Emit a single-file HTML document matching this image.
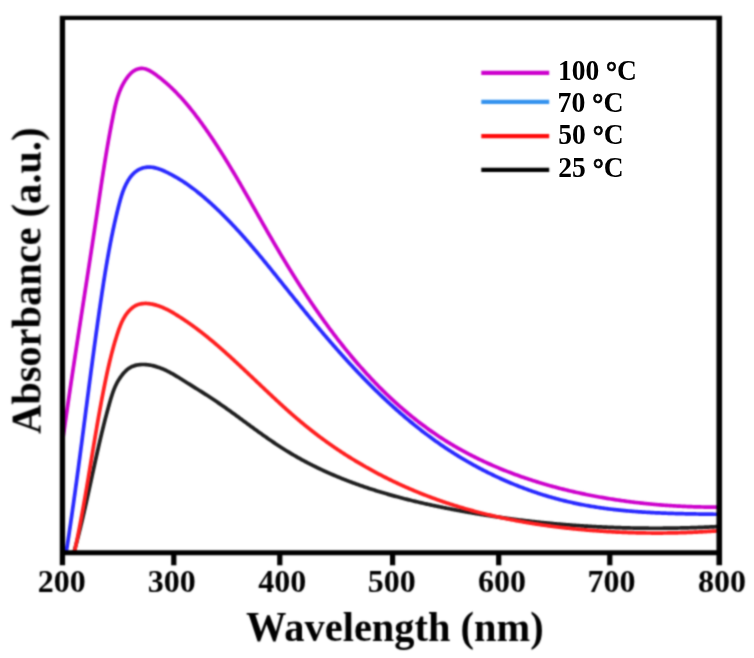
<!DOCTYPE html>
<html><head><meta charset="utf-8"><style>
html,body{margin:0;padding:0;background:#fff;}
svg{display:block;}
text{font-family:"Liberation Serif",serif;font-weight:bold;fill:#000;}
</style></head><body>
<svg width="754" height="658" viewBox="0 0 754 658">
<defs><clipPath id="c"><rect x="62" y="18" width="658" height="535"/></clipPath>
<filter id="f" x="0" y="0" width="754" height="658" filterUnits="userSpaceOnUse" color-interpolation-filters="sRGB"><feConvolveMatrix order="5" kernelMatrix="0.00048 0.00501 0.01095 0.00501 0.00048 0.00501 0.05222 0.11405 0.05222 0.00501 0.01095 0.11405 0.24912 0.11405 0.01095 0.00501 0.05222 0.11405 0.05222 0.00501 0.00048 0.00501 0.01095 0.00501 0.00048" edgeMode="none"/></filter></defs>
<rect width="754" height="658" fill="#fff"/>
<g filter="url(#f)">
<g clip-path="url(#c)" fill="none" stroke-width="3.7" stroke-linejoin="round" stroke-linecap="round">
<path d="M73.54,553.74 L73.79,552.86 L74.03,551.99 L74.28,551.11 L74.52,550.23 L74.77,549.35 L75.01,548.47 L75.25,547.59 L75.49,546.71 L75.73,545.83 L75.97,544.95 L76.20,544.07 L76.44,543.19 L76.67,542.30 L76.91,541.42 L77.14,540.53 L77.37,539.65 L77.60,538.76 L77.83,537.88 L78.06,536.99 L78.29,536.10 L78.51,535.22 L78.74,534.33 L78.96,533.44 L79.19,532.55 L79.41,531.66 L79.63,530.77 L79.85,529.88 L80.07,528.99 L80.29,528.10 L80.51,527.21 L80.73,526.32 L80.94,525.42 L81.16,524.53 L81.38,523.64 L81.59,522.74 L81.80,521.85 L82.02,520.96 L82.23,520.06 L82.44,519.17 L82.65,518.27 L82.86,517.38 L83.07,516.48 L83.28,515.58 L83.49,514.69 L83.70,513.79 L83.91,512.89 L84.11,511.99 L84.32,511.10 L84.52,510.20 L84.73,509.30 L84.93,508.40 L85.14,507.50 L85.34,506.60 L85.54,505.70 L85.75,504.80 L85.95,503.90 L86.15,503.00 L86.35,502.10 L86.55,501.20 L86.75,500.30 L86.96,499.40 L87.16,498.50 L87.35,497.60 L87.55,496.70 L87.75,495.79 L87.95,494.89 L88.15,493.99 L88.35,493.09 L88.55,492.18 L88.74,491.28 L88.94,490.38 L89.14,489.48 L89.34,488.57 L89.53,487.67 L89.73,486.77 L89.93,485.86 L90.12,484.96 L90.32,484.06 L90.52,483.15 L90.71,482.25 L90.91,481.35 L91.11,480.44 L91.30,479.54 L91.50,478.64 L91.70,477.73 L91.89,476.83 L92.09,475.93 L92.28,475.02 L92.48,474.12 L92.68,473.21 L92.87,472.31 L93.07,471.41 L93.27,470.50 L93.47,469.60 L93.66,468.70 L93.86,467.79 L94.06,466.89 L94.26,465.99 L94.45,465.08 L94.65,464.18 L94.85,463.28 L95.05,462.37 L95.25,461.47 L95.45,460.57 L95.65,459.67 L95.85,458.76 L96.05,457.86 L96.25,456.96 L96.45,456.06 L96.65,455.15 L96.85,454.25 L97.05,453.35 L97.26,452.45 L97.46,451.55 L97.66,450.65 L97.87,449.75 L98.07,448.85 L98.28,447.94 L98.48,447.04 L98.69,446.14 L98.89,445.24 L99.10,444.35 L99.31,443.45 L99.52,442.55 L99.73,441.65 L99.94,440.75 L100.15,439.85 L100.36,438.95 L100.57,438.06 L100.78,437.16 L100.99,436.26 L101.21,435.37 L101.42,434.47 L101.64,433.57 L101.85,432.68 L102.07,431.78 L102.29,430.89 L102.51,429.99 L102.72,429.10 L102.94,428.20 L103.16,427.31 L103.39,426.42 L103.61,425.52 L103.83,424.63 L104.06,423.74 L104.28,422.85 L104.51,421.96 L104.74,421.07 L104.96,420.18 L105.19,419.29 L105.42,418.40 L105.65,417.51 L105.89,416.62 L106.12,415.73 L106.35,414.85 L106.59,413.96 L106.83,413.07 L107.06,412.19 L107.30,411.30 L107.54,410.42 L107.78,409.53 L108.02,408.65 L108.27,407.76 L108.51,406.88 L108.76,406.00 L109.01,405.12 L109.25,404.24 L109.50,403.36 L109.75,402.48 L110.01,401.60 L110.26,400.72 L110.51,399.84 L110.77,398.96 L111.03,398.09 L111.30,397.21 L111.57,396.34 L111.85,395.47 L112.13,394.60 L112.42,393.73 L112.71,392.87 L113.01,392.00 L113.33,391.14 L113.65,390.29 L113.98,389.43 L114.32,388.58 L114.67,387.73 L115.04,386.88 L115.41,386.04 L115.80,385.20 L116.21,384.37 L116.62,383.54 L117.06,382.71 L117.51,381.89 L117.97,381.07 L118.45,380.26 L118.95,379.45 L119.47,378.65 L120.00,377.86 L120.55,377.07 L121.11,376.29 L121.69,375.53 L122.29,374.77 L122.89,374.03 L123.51,373.30 L124.14,372.59 L124.79,371.90 L125.45,371.22 L126.13,370.58 L126.82,369.95 L127.52,369.36 L128.24,368.80 L128.99,368.28 L129.74,367.79 L130.52,367.34 L131.31,366.92 L132.12,366.55 L132.94,366.20 L133.78,365.89 L134.63,365.62 L135.49,365.38 L136.36,365.16 L137.24,364.98 L138.13,364.83 L139.03,364.71 L139.93,364.61 L140.84,364.54 L141.75,364.50 L142.67,364.48 L143.59,364.49 L144.51,364.52 L145.44,364.57 L146.36,364.64 L147.28,364.73 L148.20,364.85 L149.12,364.98 L150.03,365.13 L150.94,365.29 L151.84,365.48 L152.74,365.68 L153.63,365.89 L154.52,366.12 L155.40,366.36 L156.28,366.62 L157.16,366.90 L158.03,367.18 L158.90,367.48 L159.76,367.80 L160.62,368.12 L161.47,368.46 L162.33,368.80 L163.18,369.16 L164.02,369.53 L164.86,369.91 L165.70,370.30 L166.53,370.70 L167.37,371.11 L168.20,371.53 L169.02,371.95 L169.84,372.38 L170.66,372.82 L171.48,373.27 L172.30,373.72 L173.11,374.18 L173.92,374.64 L174.72,375.11 L175.53,375.58 L176.33,376.06 L177.13,376.54 L177.93,377.03 L178.73,377.51 L179.52,378.01 L180.32,378.50 L181.11,378.99 L181.90,379.49 L182.69,379.98 L183.47,380.48 L184.26,380.98 L185.04,381.47 L185.83,381.97 L186.61,382.46 L187.39,382.96 L188.17,383.45 L188.95,383.94 L189.73,384.43 L190.51,384.91 L191.28,385.40 L192.06,385.89 L192.83,386.37 L193.61,386.85 L194.38,387.34 L195.15,387.82 L195.93,388.30 L196.70,388.78 L197.47,389.27 L198.24,389.75 L199.01,390.23 L199.77,390.71 L200.54,391.19 L201.31,391.68 L202.07,392.16 L202.84,392.64 L203.60,393.13 L204.37,393.61 L205.13,394.10 L205.89,394.58 L206.65,395.07 L207.42,395.56 L208.18,396.05 L208.94,396.55 L209.70,397.04 L210.46,397.53 L211.21,398.03 L211.97,398.53 L212.73,399.03 L213.49,399.54 L214.24,400.04 L215.00,400.55 L215.75,401.06 L216.51,401.57 L217.26,402.08 L218.02,402.60 L218.77,403.12 L219.53,403.64 L220.28,404.16 L221.03,404.68 L221.79,405.21 L222.54,405.73 L223.29,406.26 L224.04,406.79 L224.79,407.32 L225.54,407.85 L226.30,408.38 L227.05,408.92 L227.80,409.45 L228.55,409.99 L229.30,410.53 L230.05,411.07 L230.80,411.61 L231.55,412.15 L232.30,412.69 L233.05,413.24 L233.80,413.78 L234.55,414.33 L235.30,414.87 L236.05,415.42 L236.80,415.97 L237.55,416.52 L238.30,417.07 L239.05,417.61 L239.80,418.16 L240.55,418.71 L241.30,419.27 L242.05,419.82 L242.80,420.37 L243.55,420.92 L244.30,421.47 L245.05,422.02 L245.81,422.58 L246.56,423.13 L247.31,423.68 L248.06,424.23 L248.81,424.78 L249.57,425.34 L250.32,425.89 L251.07,426.44 L251.83,426.99 L252.58,427.54 L253.34,428.09 L254.09,428.64 L254.85,429.19 L255.60,429.74 L256.36,430.29 L257.12,430.84 L257.87,431.38 L258.63,431.93 L259.39,432.48 L260.15,433.02 L260.91,433.57 L261.67,434.11 L262.43,434.65 L263.19,435.19 L263.95,435.73 L264.72,436.27 L265.48,436.81 L266.24,437.35 L267.01,437.88 L267.77,438.42 L268.54,438.95 L269.31,439.48 L270.07,440.01 L270.84,440.54 L271.61,441.07 L272.38,441.59 L273.15,442.12 L273.92,442.64 L274.70,443.16 L275.47,443.68 L276.25,444.20 L277.02,444.71 L277.80,445.23 L278.57,445.74 L279.35,446.25 L280.13,446.75 L280.91,447.26 L281.69,447.76 L282.48,448.26 L283.26,448.76 L284.04,449.26 L284.83,449.75 L285.62,450.24 L286.40,450.73 L287.19,451.22 L287.98,451.70 L288.77,452.18 L289.56,452.66 L290.36,453.14 L291.15,453.61 L291.95,454.08 L292.74,454.55 L293.54,455.02 L294.34,455.49 L295.14,455.95 L295.94,456.41 L296.74,456.87 L297.55,457.32 L298.35,457.78 L299.15,458.23 L299.96,458.67 L300.77,459.12 L301.58,459.57 L302.38,460.01 L303.19,460.45 L304.01,460.88 L304.82,461.32 L305.63,461.75 L306.44,462.18 L307.26,462.61 L308.08,463.04 L308.89,463.46 L309.71,463.88 L310.53,464.30 L311.35,464.72 L312.17,465.13 L312.99,465.54 L313.82,465.96 L314.64,466.36 L315.46,466.77 L316.29,467.17 L317.12,467.58 L317.94,467.98 L318.77,468.37 L319.60,468.77 L320.43,469.16 L321.26,469.55 L322.09,469.94 L322.93,470.33 L323.76,470.72 L324.59,471.10 L325.43,471.48 L326.27,471.86 L327.10,472.24 L327.94,472.61 L328.78,472.99 L329.62,473.36 L330.46,473.73 L331.30,474.09 L332.14,474.46 L332.99,474.82 L333.83,475.18 L334.68,475.54 L335.52,475.90 L336.37,476.25 L337.21,476.61 L338.06,476.96 L338.91,477.31 L339.76,477.66 L340.61,478.00 L341.46,478.35 L342.31,478.69 L343.17,479.03 L344.02,479.37 L344.87,479.70 L345.73,480.04 L346.58,480.37 L347.44,480.70 L348.30,481.03 L349.16,481.36 L350.01,481.68 L350.87,482.01 L351.73,482.33 L352.59,482.65 L353.46,482.97 L354.32,483.29 L355.18,483.60 L356.04,483.91 L356.91,484.23 L357.77,484.53 L358.64,484.84 L359.50,485.15 L360.37,485.45 L361.24,485.76 L362.11,486.06 L362.97,486.36 L363.84,486.66 L364.71,486.95 L365.58,487.25 L366.46,487.54 L367.33,487.83 L368.20,488.12 L369.07,488.41 L369.95,488.70 L370.82,488.98 L371.70,489.26 L372.57,489.55 L373.45,489.83 L374.32,490.10 L375.20,490.38 L376.08,490.66 L376.96,490.93 L377.84,491.20 L378.72,491.47 L379.60,491.74 L380.48,492.01 L381.36,492.28 L382.24,492.54 L383.12,492.81 L384.00,493.07 L384.89,493.33 L385.77,493.59 L386.65,493.84 L387.54,494.10 L388.42,494.36 L389.31,494.61 L390.20,494.86 L391.08,495.11 L391.97,495.36 L392.86,495.61 L393.74,495.85 L394.63,496.10 L395.52,496.34 L396.41,496.59 L397.30,496.83 L398.19,497.07 L399.08,497.30 L399.97,497.54 L400.86,497.78 L401.76,498.01 L402.65,498.24 L403.54,498.48 L404.43,498.71 L405.33,498.94 L406.22,499.16 L407.12,499.39 L408.01,499.62 L408.91,499.84 L409.80,500.06 L410.70,500.29 L411.59,500.51 L412.49,500.73 L413.39,500.94 L414.28,501.16 L415.18,501.38 L416.08,501.59 L416.98,501.80 L417.87,502.02 L418.77,502.23 L419.67,502.44 L420.57,502.65 L421.47,502.86 L422.37,503.06 L423.27,503.27 L424.17,503.47 L425.07,503.68 L425.97,503.88 L426.88,504.08 L427.78,504.28 L428.68,504.48 L429.58,504.68 L430.48,504.87 L431.39,505.07 L432.29,505.27 L433.19,505.46 L434.10,505.65 L435.00,505.85 L435.90,506.04 L436.81,506.23 L437.71,506.42 L438.62,506.60 L439.52,506.79 L440.43,506.98 L441.33,507.16 L442.24,507.35 L443.14,507.53 L444.05,507.71 L444.95,507.90 L445.86,508.08 L446.76,508.26 L447.67,508.44 L448.58,508.61 L449.48,508.79 L450.39,508.97 L451.30,509.14 L452.20,509.32 L453.11,509.49 L454.02,509.67 L454.93,509.84 L455.83,510.01 L456.74,510.18 L457.65,510.35 L458.56,510.52 L459.46,510.69 L460.37,510.86 L461.28,511.02 L462.19,511.19 L463.10,511.35 L464.01,511.52 L464.91,511.68 L465.82,511.84 L466.73,512.01 L467.64,512.17 L468.55,512.33 L469.46,512.49 L470.37,512.64 L471.28,512.80 L472.19,512.96 L473.10,513.11 L474.01,513.27 L474.92,513.42 L475.83,513.58 L476.74,513.73 L477.65,513.88 L478.56,514.03 L479.47,514.18 L480.38,514.33 L481.29,514.48 L482.20,514.63 L483.11,514.77 L484.02,514.92 L484.93,515.06 L485.85,515.21 L486.76,515.35 L487.67,515.49 L488.58,515.64 L489.49,515.78 L490.40,515.92 L491.32,516.06 L492.23,516.20 L493.14,516.33 L494.05,516.47 L494.97,516.61 L495.88,516.74 L496.79,516.88 L497.70,517.01 L498.62,517.14 L499.53,517.27 L500.44,517.40 L501.35,517.54 L502.27,517.66 L503.18,517.79 L504.09,517.92 L505.01,518.05 L505.92,518.17 L506.84,518.30 L507.75,518.42 L508.66,518.55 L509.58,518.67 L510.49,518.79 L511.41,518.92 L512.32,519.04 L513.23,519.16 L514.15,519.27 L515.06,519.39 L515.98,519.51 L516.89,519.63 L517.81,519.74 L518.72,519.86 L519.64,519.97 L520.55,520.09 L521.47,520.20 L522.38,520.31 L523.30,520.42 L524.21,520.53 L525.13,520.64 L526.05,520.75 L526.96,520.86 L527.88,520.96 L528.79,521.07 L529.71,521.17 L530.63,521.28 L531.54,521.38 L532.46,521.49 L533.37,521.59 L534.29,521.69 L535.21,521.79 L536.12,521.89 L537.04,521.99 L537.96,522.09 L538.87,522.18 L539.79,522.28 L540.71,522.38 L541.62,522.47 L542.54,522.57 L543.46,522.66 L544.38,522.75 L545.29,522.84 L546.21,522.93 L547.13,523.02 L548.05,523.11 L548.96,523.20 L549.88,523.29 L550.80,523.38 L551.72,523.46 L552.63,523.55 L553.55,523.63 L554.47,523.72 L555.39,523.80 L556.31,523.88 L557.23,523.97 L558.14,524.05 L559.06,524.13 L559.98,524.21 L560.90,524.28 L561.82,524.36 L562.74,524.44 L563.66,524.51 L564.57,524.59 L565.49,524.66 L566.41,524.74 L567.33,524.81 L568.25,524.88 L569.17,524.95 L570.09,525.02 L571.01,525.09 L571.93,525.16 L572.85,525.23 L573.76,525.30 L574.68,525.37 L575.60,525.43 L576.52,525.50 L577.44,525.56 L578.36,525.63 L579.28,525.69 L580.20,525.75 L581.12,525.81 L582.04,525.87 L582.96,525.93 L583.88,525.99 L584.80,526.05 L585.72,526.11 L586.64,526.16 L587.56,526.22 L588.48,526.27 L589.40,526.33 L590.32,526.38 L591.24,526.43 L592.16,526.49 L593.08,526.54 L594.00,526.59 L594.92,526.64 L595.85,526.69 L596.77,526.73 L597.69,526.78 L598.61,526.83 L599.53,526.87 L600.45,526.92 L601.37,526.96 L602.29,527.01 L603.21,527.05 L604.13,527.09 L605.05,527.13 L605.97,527.17 L606.90,527.21 L607.82,527.25 L608.74,527.29 L609.66,527.33 L610.58,527.37 L611.50,527.40 L612.42,527.44 L613.34,527.47 L614.27,527.51 L615.19,527.54 L616.11,527.57 L617.03,527.60 L617.95,527.63 L618.87,527.66 L619.79,527.69 L620.72,527.72 L621.64,527.75 L622.56,527.78 L623.48,527.80 L624.40,527.83 L625.32,527.85 L626.25,527.88 L627.17,527.90 L628.09,527.92 L629.01,527.94 L629.93,527.96 L630.85,527.98 L631.78,528.00 L632.70,528.02 L633.62,528.04 L634.54,528.06 L635.46,528.07 L636.39,528.09 L637.31,528.10 L638.23,528.12 L639.15,528.13 L640.07,528.14 L641.00,528.16 L641.92,528.17 L642.84,528.18 L643.76,528.19 L644.68,528.20 L645.61,528.20 L646.53,528.21 L647.45,528.22 L648.37,528.22 L649.29,528.23 L650.22,528.23 L651.14,528.24 L652.06,528.24 L652.98,528.24 L653.91,528.25 L654.83,528.25 L655.75,528.25 L656.67,528.25 L657.59,528.24 L658.52,528.24 L659.44,528.24 L660.36,528.24 L661.28,528.23 L662.21,528.23 L663.13,528.22 L664.05,528.21 L664.97,528.21 L665.89,528.20 L666.82,528.19 L667.74,528.18 L668.66,528.17 L669.58,528.16 L670.51,528.15 L671.43,528.14 L672.35,528.12 L673.27,528.11 L674.19,528.09 L675.12,528.08 L676.04,528.06 L676.96,528.05 L677.88,528.03 L678.81,528.01 L679.73,527.99 L680.65,527.97 L681.57,527.95 L682.49,527.93 L683.42,527.91 L684.34,527.89 L685.26,527.86 L686.18,527.84 L687.11,527.82 L688.03,527.79 L688.95,527.76 L689.87,527.74 L690.79,527.71 L691.72,527.68 L692.64,527.65 L693.56,527.62 L694.48,527.59 L695.40,527.56 L696.33,527.53 L697.25,527.50 L698.17,527.46 L699.09,527.43 L700.01,527.39 L700.94,527.36 L701.86,527.32 L702.78,527.29 L703.70,527.25 L704.62,527.21 L705.54,527.17 L706.47,527.13 L707.39,527.09 L708.31,527.05 L709.23,527.01 L710.15,526.97 L711.07,526.92 L712.00,526.88 L712.92,526.83 L713.84,526.79 L714.76,526.74 L715.68,526.70 L716.60,526.65 L717.53,526.60 L718.45,526.55 L719.37,526.50 L720.29,526.45 L721.21,526.40 L722.13,526.35 L723.05,526.30 L723.97,526.24" stroke="#1e1e1e"/>
<path d="M74.00,553.94 L74.22,552.95 L74.44,551.95 L74.65,550.96 L74.87,549.97 L75.08,548.97 L75.30,547.98 L75.51,546.98 L75.72,545.99 L75.93,545.00 L76.14,544.00 L76.35,543.01 L76.56,542.01 L76.76,541.02 L76.97,540.02 L77.17,539.02 L77.38,538.03 L77.58,537.03 L77.78,536.03 L77.98,535.04 L78.18,534.04 L78.38,533.04 L78.58,532.05 L78.78,531.05 L78.97,530.05 L79.17,529.05 L79.36,528.05 L79.56,527.05 L79.75,526.06 L79.94,525.06 L80.13,524.06 L80.32,523.06 L80.51,522.06 L80.70,521.06 L80.89,520.06 L81.08,519.06 L81.26,518.06 L81.45,517.06 L81.64,516.06 L81.82,515.06 L82.01,514.06 L82.19,513.05 L82.37,512.05 L82.55,511.05 L82.74,510.05 L82.92,509.05 L83.10,508.05 L83.28,507.04 L83.46,506.04 L83.64,505.04 L83.81,504.04 L83.99,503.04 L84.17,502.03 L84.34,501.03 L84.52,500.03 L84.70,499.02 L84.87,498.02 L85.05,497.02 L85.22,496.01 L85.39,495.01 L85.57,494.01 L85.74,493.00 L85.91,492.00 L86.09,491.00 L86.26,489.99 L86.43,488.99 L86.60,487.98 L86.77,486.98 L86.94,485.97 L87.11,484.97 L87.28,483.97 L87.45,482.96 L87.62,481.96 L87.79,480.95 L87.96,479.95 L88.13,478.94 L88.30,477.94 L88.46,476.93 L88.63,475.93 L88.80,474.92 L88.97,473.92 L89.13,472.91 L89.30,471.91 L89.47,470.90 L89.64,469.90 L89.80,468.89 L89.97,467.89 L90.14,466.88 L90.30,465.88 L90.47,464.87 L90.64,463.86 L90.80,462.86 L90.97,461.85 L91.13,460.85 L91.30,459.84 L91.47,458.84 L91.63,457.83 L91.80,456.83 L91.97,455.82 L92.13,454.82 L92.30,453.81 L92.47,452.81 L92.63,451.80 L92.80,450.80 L92.97,449.79 L93.13,448.78 L93.30,447.78 L93.47,446.77 L93.64,445.77 L93.80,444.76 L93.97,443.76 L94.14,442.75 L94.31,441.75 L94.48,440.74 L94.65,439.74 L94.81,438.73 L94.98,437.73 L95.15,436.73 L95.32,435.72 L95.49,434.72 L95.66,433.71 L95.84,432.71 L96.01,431.70 L96.18,430.70 L96.35,429.69 L96.52,428.69 L96.69,427.69 L96.87,426.68 L97.04,425.68 L97.21,424.68 L97.39,423.67 L97.56,422.67 L97.74,421.66 L97.91,420.66 L98.09,419.66 L98.27,418.66 L98.44,417.65 L98.62,416.65 L98.80,415.65 L98.98,414.64 L99.16,413.64 L99.34,412.64 L99.52,411.64 L99.70,410.64 L99.88,409.63 L100.06,408.63 L100.25,407.63 L100.43,406.63 L100.62,405.63 L100.80,404.63 L100.99,403.63 L101.17,402.63 L101.36,401.62 L101.55,400.62 L101.73,399.62 L101.92,398.62 L102.11,397.62 L102.30,396.62 L102.50,395.62 L102.69,394.63 L102.88,393.63 L103.08,392.63 L103.27,391.63 L103.47,390.63 L103.66,389.63 L103.86,388.63 L104.06,387.64 L104.26,386.64 L104.46,385.64 L104.66,384.64 L104.86,383.65 L105.06,382.65 L105.27,381.65 L105.47,380.66 L105.68,379.66 L105.88,378.66 L106.09,377.67 L106.30,376.67 L106.51,375.68 L106.72,374.68 L106.93,373.69 L107.15,372.69 L107.37,371.70 L107.58,370.71 L107.80,369.71 L108.02,368.72 L108.25,367.73 L108.47,366.74 L108.70,365.75 L108.93,364.75 L109.16,363.76 L109.39,362.77 L109.62,361.78 L109.86,360.79 L110.10,359.81 L110.34,358.82 L110.58,357.83 L110.83,356.84 L111.07,355.85 L111.32,354.87 L111.58,353.88 L111.83,352.90 L112.09,351.91 L112.35,350.93 L112.61,349.94 L112.88,348.96 L113.15,347.98 L113.42,347.00 L113.69,346.01 L113.97,345.03 L114.25,344.05 L114.54,343.07 L114.82,342.10 L115.11,341.12 L115.41,340.14 L115.70,339.16 L116.00,338.19 L116.31,337.21 L116.61,336.24 L116.92,335.26 L117.24,334.29 L117.56,333.32 L117.88,332.35 L118.20,331.38 L118.53,330.41 L118.87,329.44 L119.22,328.48 L119.57,327.52 L119.93,326.56 L120.30,325.61 L120.68,324.66 L121.08,323.72 L121.49,322.79 L121.91,321.86 L122.35,320.94 L122.80,320.03 L123.27,319.13 L123.76,318.24 L124.27,317.35 L124.80,316.48 L125.35,315.62 L125.92,314.78 L126.52,313.94 L127.14,313.12 L127.79,312.31 L128.46,311.52 L129.15,310.76 L129.87,310.01 L130.61,309.29 L131.38,308.60 L132.16,307.95 L132.97,307.33 L133.80,306.75 L134.65,306.21 L135.52,305.72 L136.40,305.27 L137.31,304.88 L138.24,304.54 L139.18,304.25 L140.13,304.01 L141.10,303.82 L142.08,303.66 L143.06,303.56 L144.06,303.49 L145.06,303.46 L146.07,303.46 L147.08,303.51 L148.10,303.58 L149.11,303.68 L150.12,303.82 L151.13,303.98 L152.14,304.16 L153.14,304.37 L154.13,304.60 L155.12,304.86 L156.10,305.13 L157.08,305.42 L158.04,305.73 L159.01,306.06 L159.96,306.41 L160.91,306.77 L161.86,307.15 L162.80,307.54 L163.74,307.95 L164.67,308.38 L165.59,308.81 L166.51,309.26 L167.43,309.72 L168.34,310.19 L169.25,310.67 L170.15,311.16 L171.05,311.66 L171.94,312.17 L172.83,312.69 L173.72,313.21 L174.60,313.74 L175.48,314.27 L176.36,314.81 L177.23,315.35 L178.10,315.89 L178.96,316.44 L179.83,316.99 L180.69,317.55 L181.55,318.10 L182.40,318.66 L183.25,319.22 L184.10,319.79 L184.95,320.36 L185.79,320.93 L186.63,321.50 L187.47,322.08 L188.31,322.66 L189.14,323.24 L189.97,323.82 L190.80,324.41 L191.62,325.00 L192.45,325.59 L193.27,326.18 L194.09,326.78 L194.90,327.38 L195.72,327.98 L196.53,328.59 L197.34,329.19 L198.14,329.80 L198.95,330.42 L199.75,331.03 L200.55,331.65 L201.35,332.26 L202.15,332.88 L202.94,333.51 L203.73,334.13 L204.53,334.76 L205.32,335.39 L206.10,336.02 L206.89,336.65 L207.67,337.29 L208.46,337.93 L209.24,338.57 L210.02,339.21 L210.79,339.85 L211.57,340.50 L212.34,341.14 L213.12,341.79 L213.89,342.44 L214.66,343.10 L215.43,343.75 L216.20,344.41 L216.96,345.06 L217.73,345.72 L218.49,346.38 L219.26,347.05 L220.02,347.71 L220.78,348.38 L221.54,349.04 L222.30,349.71 L223.06,350.38 L223.82,351.06 L224.57,351.73 L225.33,352.40 L226.08,353.08 L226.84,353.76 L227.59,354.44 L228.35,355.12 L229.10,355.80 L229.85,356.48 L230.60,357.16 L231.35,357.85 L232.10,358.53 L232.85,359.22 L233.60,359.91 L234.35,360.60 L235.10,361.29 L235.84,361.98 L236.59,362.67 L237.34,363.37 L238.08,364.06 L238.83,364.75 L239.57,365.45 L240.32,366.15 L241.06,366.84 L241.81,367.54 L242.55,368.24 L243.30,368.94 L244.04,369.64 L244.78,370.34 L245.52,371.04 L246.27,371.74 L247.01,372.44 L247.75,373.14 L248.49,373.85 L249.24,374.55 L249.98,375.25 L250.72,375.96 L251.46,376.66 L252.20,377.37 L252.95,378.07 L253.69,378.78 L254.43,379.48 L255.17,380.19 L255.91,380.89 L256.66,381.60 L257.40,382.30 L258.14,383.01 L258.88,383.71 L259.63,384.42 L260.37,385.12 L261.11,385.83 L261.85,386.53 L262.60,387.24 L263.34,387.94 L264.09,388.65 L264.83,389.35 L265.57,390.06 L266.32,390.76 L267.06,391.46 L267.81,392.17 L268.56,392.87 L269.30,393.57 L270.05,394.27 L270.80,394.97 L271.54,395.67 L272.29,396.37 L273.04,397.07 L273.79,397.77 L274.54,398.47 L275.29,399.17 L276.04,399.86 L276.79,400.56 L277.55,401.25 L278.30,401.95 L279.05,402.64 L279.81,403.33 L280.56,404.03 L281.32,404.72 L282.08,405.41 L282.83,406.09 L283.59,406.78 L284.35,407.47 L285.11,408.15 L285.87,408.84 L286.63,409.52 L287.40,410.20 L288.16,410.88 L288.92,411.56 L289.69,412.24 L290.46,412.92 L291.22,413.59 L291.99,414.27 L292.76,414.94 L293.53,415.61 L294.30,416.28 L295.08,416.95 L295.85,417.61 L296.62,418.28 L297.40,418.94 L298.18,419.60 L298.96,420.26 L299.74,420.92 L300.52,421.58 L301.30,422.23 L302.08,422.89 L302.87,423.54 L303.65,424.19 L304.44,424.83 L305.23,425.48 L306.02,426.12 L306.81,426.76 L307.60,427.40 L308.40,428.04 L309.19,428.68 L309.99,429.31 L310.79,429.94 L311.59,430.57 L312.39,431.20 L313.19,431.82 L314.00,432.45 L314.80,433.07 L315.61,433.69 L316.42,434.31 L317.23,434.92 L318.04,435.54 L318.85,436.15 L319.66,436.76 L320.48,437.37 L321.29,437.97 L322.11,438.58 L322.93,439.18 L323.75,439.78 L324.57,440.38 L325.39,440.97 L326.22,441.57 L327.04,442.16 L327.87,442.75 L328.69,443.34 L329.52,443.92 L330.35,444.51 L331.18,445.09 L332.02,445.67 L332.85,446.25 L333.69,446.82 L334.52,447.40 L335.36,447.97 L336.20,448.54 L337.04,449.11 L337.88,449.67 L338.72,450.24 L339.57,450.80 L340.41,451.36 L341.26,451.92 L342.11,452.47 L342.96,453.03 L343.81,453.58 L344.66,454.13 L345.51,454.68 L346.36,455.23 L347.22,455.77 L348.08,456.31 L348.93,456.85 L349.79,457.39 L350.65,457.93 L351.51,458.46 L352.37,458.99 L353.24,459.52 L354.10,460.05 L354.97,460.58 L355.83,461.10 L356.70,461.62 L357.57,462.14 L358.44,462.66 L359.31,463.18 L360.19,463.69 L361.06,464.21 L361.94,464.72 L362.81,465.22 L363.69,465.73 L364.57,466.23 L365.45,466.74 L366.33,467.24 L367.21,467.73 L368.09,468.23 L368.98,468.72 L369.86,469.22 L370.75,469.71 L371.63,470.19 L372.52,470.68 L373.41,471.16 L374.30,471.65 L375.19,472.13 L376.09,472.60 L376.98,473.08 L377.88,473.55 L378.77,474.03 L379.67,474.50 L380.57,474.96 L381.47,475.43 L382.37,475.89 L383.27,476.35 L384.17,476.81 L385.07,477.27 L385.98,477.73 L386.88,478.18 L387.79,478.63 L388.70,479.08 L389.61,479.53 L390.52,479.98 L391.43,480.42 L392.34,480.86 L393.25,481.30 L394.17,481.74 L395.08,482.17 L396.00,482.61 L396.91,483.04 L397.83,483.47 L398.75,483.89 L399.67,484.32 L400.59,484.74 L401.51,485.16 L402.44,485.58 L403.36,486.00 L404.28,486.41 L405.21,486.83 L406.14,487.24 L407.06,487.65 L407.99,488.05 L408.92,488.46 L409.85,488.86 L410.79,489.26 L411.72,489.66 L412.65,490.06 L413.59,490.45 L414.52,490.85 L415.46,491.24 L416.39,491.62 L417.33,492.01 L418.27,492.39 L419.21,492.78 L420.15,493.16 L421.09,493.54 L422.04,493.91 L422.98,494.29 L423.92,494.66 L424.87,495.03 L425.82,495.40 L426.76,495.76 L427.71,496.13 L428.66,496.49 L429.61,496.85 L430.56,497.20 L431.51,497.56 L432.46,497.91 L433.42,498.27 L434.37,498.61 L435.33,498.96 L436.28,499.31 L437.24,499.65 L438.20,499.99 L439.16,500.33 L440.12,500.67 L441.08,501.00 L442.04,501.34 L443.00,501.67 L443.96,502.00 L444.92,502.32 L445.89,502.65 L446.85,502.97 L447.82,503.29 L448.79,503.61 L449.75,503.93 L450.72,504.24 L451.69,504.55 L452.66,504.86 L453.63,505.17 L454.60,505.48 L455.57,505.78 L456.55,506.08 L457.52,506.38 L458.50,506.68 L459.47,506.98 L460.45,507.27 L461.42,507.56 L462.40,507.85 L463.38,508.14 L464.36,508.42 L465.34,508.71 L466.32,508.99 L467.30,509.27 L468.28,509.54 L469.27,509.82 L470.25,510.09 L471.23,510.36 L472.22,510.63 L473.20,510.90 L474.19,511.17 L475.18,511.43 L476.16,511.69 L477.15,511.95 L478.14,512.21 L479.13,512.46 L480.12,512.72 L481.11,512.97 L482.10,513.22 L483.09,513.47 L484.08,513.71 L485.08,513.96 L486.07,514.20 L487.06,514.44 L488.06,514.68 L489.05,514.92 L490.05,515.15 L491.04,515.38 L492.04,515.61 L493.04,515.84 L494.03,516.07 L495.03,516.30 L496.03,516.52 L497.03,516.74 L498.03,516.96 L499.03,517.18 L500.03,517.40 L501.03,517.61 L502.03,517.82 L503.03,518.03 L504.03,518.24 L505.04,518.45 L506.04,518.66 L507.04,518.86 L508.05,519.06 L509.05,519.26 L510.05,519.46 L511.06,519.66 L512.06,519.86 L513.07,520.05 L514.07,520.24 L515.08,520.43 L516.09,520.62 L517.09,520.81 L518.10,520.99 L519.11,521.18 L520.12,521.36 L521.12,521.54 L522.13,521.72 L523.14,521.89 L524.15,522.07 L525.16,522.24 L526.17,522.42 L527.18,522.59 L528.19,522.76 L529.20,522.92 L530.21,523.09 L531.22,523.25 L532.23,523.42 L533.24,523.58 L534.25,523.74 L535.26,523.89 L536.27,524.05 L537.28,524.20 L538.29,524.36 L539.30,524.51 L540.32,524.66 L541.33,524.81 L542.34,524.96 L543.35,525.10 L544.36,525.25 L545.38,525.39 L546.39,525.53 L547.40,525.67 L548.41,525.81 L549.43,525.95 L550.44,526.08 L551.45,526.21 L552.47,526.35 L553.48,526.48 L554.49,526.61 L555.50,526.74 L556.52,526.86 L557.53,526.99 L558.54,527.11 L559.56,527.24 L560.57,527.36 L561.58,527.48 L562.59,527.60 L563.61,527.71 L564.62,527.83 L565.63,527.94 L566.65,528.06 L567.66,528.17 L568.67,528.28 L569.68,528.39 L570.69,528.50 L571.71,528.60 L572.72,528.71 L573.73,528.81 L574.74,528.91 L575.75,529.01 L576.77,529.11 L577.78,529.21 L578.79,529.31 L579.80,529.41 L580.81,529.50 L581.82,529.60 L582.83,529.69 L583.84,529.78 L584.85,529.87 L585.86,529.96 L586.87,530.05 L587.88,530.13 L588.89,530.22 L589.90,530.30 L590.91,530.38 L591.92,530.46 L592.93,530.54 L593.94,530.62 L594.95,530.70 L595.96,530.78 L596.97,530.85 L597.98,530.93 L598.99,531.00 L600.00,531.07 L601.01,531.14 L602.01,531.21 L603.02,531.27 L604.03,531.34 L605.04,531.40 L606.05,531.47 L607.06,531.53 L608.07,531.59 L609.08,531.65 L610.09,531.71 L611.09,531.77 L612.10,531.82 L613.11,531.88 L614.12,531.93 L615.13,531.98 L616.14,532.03 L617.15,532.08 L618.16,532.13 L619.17,532.18 L620.18,532.23 L621.18,532.27 L622.19,532.31 L623.20,532.36 L624.21,532.40 L625.22,532.44 L626.23,532.47 L627.24,532.51 L628.25,532.55 L629.26,532.58 L630.27,532.62 L631.28,532.65 L632.29,532.68 L633.30,532.71 L634.31,532.74 L635.32,532.76 L636.33,532.79 L637.34,532.81 L638.35,532.84 L639.36,532.86 L640.37,532.88 L641.39,532.90 L642.40,532.92 L643.41,532.94 L644.42,532.95 L645.43,532.97 L646.44,532.98 L647.46,532.99 L648.47,533.00 L649.48,533.01 L650.49,533.02 L651.51,533.03 L652.52,533.03 L653.53,533.04 L654.54,533.04 L655.56,533.04 L656.57,533.05 L657.59,533.05 L658.60,533.04 L659.61,533.04 L660.63,533.04 L661.64,533.03 L662.66,533.03 L663.67,533.02 L664.69,533.01 L665.71,533.00 L666.72,532.99 L667.74,532.97 L668.76,532.96 L669.77,532.94 L670.79,532.93 L671.81,532.91 L672.83,532.89 L673.84,532.87 L674.86,532.85 L675.88,532.83 L676.90,532.80 L677.92,532.78 L678.94,532.75 L679.96,532.73 L680.98,532.70 L682.00,532.67 L683.02,532.64 L684.04,532.60 L685.06,532.57 L686.09,532.53 L687.11,532.50 L688.13,532.46 L689.15,532.42 L690.18,532.38 L691.20,532.34 L692.22,532.30 L693.25,532.25 L694.27,532.21 L695.30,532.16 L696.32,532.12 L697.35,532.07 L698.38,532.02 L699.40,531.97 L700.43,531.92 L701.46,531.86 L702.49,531.81 L703.52,531.75 L704.54,531.69 L705.57,531.64 L706.60,531.58 L707.63,531.52 L708.67,531.45 L709.70,531.39 L710.73,531.33 L711.76,531.26 L712.79,531.19 L713.83,531.12 L714.86,531.06 L715.89,530.98 L716.93,530.91 L717.96,530.84 L719.00,530.77 L720.04,530.69 L721.07,530.61 L722.11,530.54 L723.15,530.46 L724.18,530.38" stroke="#ff1e1e"/>
<path d="M65.96,553.91 L66.15,552.69 L66.34,551.48 L66.53,550.26 L66.72,549.04 L66.91,547.83 L67.10,546.61 L67.29,545.40 L67.48,544.18 L67.66,542.96 L67.85,541.74 L68.03,540.53 L68.22,539.31 L68.40,538.09 L68.59,536.87 L68.77,535.66 L68.96,534.44 L69.14,533.22 L69.32,532.00 L69.50,530.78 L69.68,529.56 L69.87,528.35 L70.05,527.13 L70.23,525.91 L70.41,524.69 L70.59,523.47 L70.76,522.25 L70.94,521.03 L71.12,519.81 L71.30,518.59 L71.48,517.37 L71.65,516.15 L71.83,514.93 L72.00,513.71 L72.18,512.48 L72.36,511.26 L72.53,510.04 L72.70,508.82 L72.88,507.60 L73.05,506.38 L73.23,505.16 L73.40,503.93 L73.57,502.71 L73.74,501.49 L73.92,500.27 L74.09,499.04 L74.26,497.82 L74.43,496.60 L74.60,495.38 L74.77,494.15 L74.94,492.93 L75.11,491.71 L75.28,490.48 L75.45,489.26 L75.62,488.04 L75.79,486.81 L75.95,485.59 L76.12,484.37 L76.29,483.14 L76.46,481.92 L76.62,480.69 L76.79,479.47 L76.96,478.24 L77.12,477.02 L77.29,475.80 L77.46,474.57 L77.62,473.35 L77.79,472.12 L77.95,470.90 L78.12,469.67 L78.28,468.45 L78.45,467.22 L78.61,466.00 L78.77,464.77 L78.94,463.55 L79.10,462.32 L79.26,461.09 L79.43,459.87 L79.59,458.64 L79.75,457.42 L79.92,456.19 L80.08,454.97 L80.24,453.74 L80.40,452.51 L80.57,451.29 L80.73,450.06 L80.89,448.83 L81.05,447.61 L81.21,446.38 L81.37,445.16 L81.54,443.93 L81.70,442.70 L81.86,441.48 L82.02,440.25 L82.18,439.02 L82.34,437.80 L82.50,436.57 L82.66,435.34 L82.82,434.12 L82.98,432.89 L83.14,431.66 L83.30,430.44 L83.46,429.21 L83.62,427.98 L83.78,426.76 L83.94,425.53 L84.10,424.30 L84.26,423.08 L84.42,421.85 L84.58,420.62 L84.74,419.39 L84.90,418.17 L85.06,416.94 L85.22,415.71 L85.38,414.49 L85.54,413.26 L85.70,412.03 L85.86,410.81 L86.02,409.58 L86.18,408.35 L86.34,407.12 L86.50,405.90 L86.66,404.67 L86.82,403.44 L86.98,402.22 L87.14,400.99 L87.30,399.76 L87.46,398.53 L87.62,397.31 L87.78,396.08 L87.94,394.85 L88.10,393.63 L88.26,392.40 L88.42,391.17 L88.58,389.95 L88.74,388.72 L88.90,387.49 L89.06,386.27 L89.23,385.04 L89.39,383.81 L89.55,382.59 L89.71,381.36 L89.87,380.13 L90.03,378.91 L90.19,377.68 L90.36,376.45 L90.52,375.23 L90.68,374.00 L90.84,372.78 L91.00,371.55 L91.17,370.32 L91.33,369.10 L91.49,367.87 L91.66,366.65 L91.82,365.42 L91.98,364.19 L92.15,362.97 L92.31,361.74 L92.47,360.52 L92.64,359.29 L92.80,358.07 L92.97,356.84 L93.13,355.62 L93.30,354.39 L93.46,353.17 L93.63,351.94 L93.79,350.72 L93.96,349.49 L94.13,348.27 L94.29,347.04 L94.46,345.82 L94.63,344.59 L94.79,343.37 L94.96,342.14 L95.13,340.92 L95.30,339.69 L95.47,338.47 L95.63,337.25 L95.80,336.02 L95.97,334.80 L96.14,333.58 L96.31,332.35 L96.48,331.13 L96.65,329.91 L96.82,328.68 L97.00,327.46 L97.17,326.24 L97.34,325.01 L97.51,323.79 L97.68,322.57 L97.86,321.35 L98.03,320.12 L98.20,318.90 L98.38,317.68 L98.55,316.46 L98.73,315.24 L98.90,314.02 L99.08,312.79 L99.25,311.57 L99.43,310.35 L99.61,309.13 L99.78,307.91 L99.96,306.69 L100.14,305.47 L100.32,304.25 L100.50,303.03 L100.68,301.81 L100.86,300.59 L101.04,299.37 L101.22,298.15 L101.40,296.93 L101.58,295.71 L101.76,294.49 L101.94,293.27 L102.13,292.05 L102.31,290.83 L102.50,289.62 L102.68,288.40 L102.87,287.18 L103.06,285.96 L103.24,284.74 L103.43,283.53 L103.62,282.31 L103.81,281.09 L104.00,279.87 L104.20,278.66 L104.39,277.44 L104.58,276.22 L104.78,275.01 L104.98,273.79 L105.17,272.58 L105.37,271.36 L105.57,270.14 L105.77,268.93 L105.97,267.71 L106.18,266.50 L106.38,265.28 L106.59,264.07 L106.80,262.86 L107.01,261.64 L107.22,260.43 L107.43,259.21 L107.64,258.00 L107.86,256.79 L108.07,255.57 L108.29,254.36 L108.51,253.15 L108.73,251.94 L108.95,250.72 L109.18,249.51 L109.41,248.30 L109.63,247.09 L109.86,245.88 L110.09,244.67 L110.33,243.46 L110.56,242.24 L110.80,241.03 L111.04,239.82 L111.28,238.61 L111.52,237.40 L111.77,236.20 L112.02,234.99 L112.27,233.78 L112.52,232.57 L112.77,231.36 L113.03,230.15 L113.29,228.94 L113.55,227.74 L113.81,226.53 L114.07,225.32 L114.34,224.11 L114.61,222.91 L114.88,221.70 L115.16,220.50 L115.43,219.29 L115.71,218.08 L115.99,216.88 L116.28,215.67 L116.57,214.47 L116.85,213.26 L117.15,212.06 L117.44,210.86 L117.74,209.65 L118.04,208.45 L118.34,207.25 L118.65,206.04 L118.96,204.84 L119.27,203.64 L119.59,202.44 L119.91,201.24 L120.24,200.04 L120.58,198.84 L120.92,197.65 L121.28,196.45 L121.65,195.26 L122.04,194.08 L122.44,192.90 L122.86,191.72 L123.29,190.55 L123.74,189.38 L124.22,188.22 L124.72,187.06 L125.24,185.91 L125.78,184.77 L126.35,183.63 L126.95,182.51 L127.57,181.40 L128.22,180.31 L128.90,179.24 L129.61,178.20 L130.34,177.18 L131.11,176.20 L131.90,175.25 L132.72,174.35 L133.58,173.48 L134.46,172.66 L135.37,171.89 L136.32,171.17 L137.30,170.51 L138.30,169.91 L139.33,169.36 L140.38,168.86 L141.46,168.43 L142.55,168.05 L143.67,167.74 L144.79,167.48 L145.93,167.29 L147.08,167.15 L148.24,167.08 L149.41,167.08 L150.58,167.13 L151.75,167.25 L152.93,167.41 L154.11,167.63 L155.29,167.89 L156.47,168.20 L157.66,168.55 L158.84,168.94 L160.02,169.36 L161.20,169.81 L162.37,170.29 L163.54,170.79 L164.70,171.31 L165.86,171.85 L167.01,172.40 L168.15,172.96 L169.29,173.53 L170.42,174.10 L171.54,174.69 L172.65,175.29 L173.76,175.90 L174.86,176.51 L175.95,177.14 L177.04,177.77 L178.11,178.41 L179.19,179.06 L180.25,179.71 L181.31,180.38 L182.36,181.05 L183.41,181.73 L184.45,182.41 L185.48,183.11 L186.51,183.81 L187.53,184.52 L188.55,185.23 L189.56,185.95 L190.56,186.68 L191.56,187.41 L192.56,188.15 L193.55,188.90 L194.53,189.65 L195.51,190.40 L196.48,191.17 L197.45,191.93 L198.42,192.71 L199.38,193.48 L200.34,194.27 L201.29,195.05 L202.24,195.84 L203.18,196.64 L204.12,197.44 L205.05,198.24 L205.99,199.05 L206.91,199.86 L207.84,200.68 L208.76,201.49 L209.68,202.32 L210.59,203.14 L211.50,203.97 L212.41,204.80 L213.32,205.63 L214.22,206.47 L215.12,207.31 L216.01,208.15 L216.90,208.99 L217.79,209.84 L218.68,210.69 L219.56,211.55 L220.44,212.40 L221.32,213.26 L222.20,214.12 L223.07,214.99 L223.94,215.85 L224.81,216.72 L225.67,217.59 L226.53,218.47 L227.39,219.35 L228.25,220.22 L229.10,221.11 L229.95,221.99 L230.80,222.88 L231.65,223.76 L232.49,224.66 L233.34,225.55 L234.18,226.44 L235.01,227.34 L235.85,228.24 L236.68,229.14 L237.52,230.05 L238.34,230.95 L239.17,231.86 L240.00,232.77 L240.82,233.68 L241.64,234.59 L242.46,235.51 L243.28,236.43 L244.09,237.34 L244.91,238.27 L245.72,239.19 L246.53,240.11 L247.34,241.04 L248.15,241.96 L248.95,242.89 L249.76,243.82 L250.56,244.76 L251.36,245.69 L252.16,246.62 L252.96,247.56 L253.75,248.50 L254.55,249.44 L255.34,250.38 L256.14,251.32 L256.93,252.26 L257.72,253.21 L258.51,254.15 L259.30,255.10 L260.08,256.05 L260.87,257.00 L261.65,257.95 L262.44,258.90 L263.22,259.85 L264.00,260.80 L264.79,261.76 L265.57,262.71 L266.35,263.67 L267.12,264.62 L267.90,265.58 L268.68,266.54 L269.46,267.50 L270.23,268.46 L271.01,269.42 L271.79,270.38 L272.56,271.34 L273.34,272.30 L274.11,273.26 L274.88,274.23 L275.66,275.19 L276.43,276.15 L277.20,277.12 L277.98,278.08 L278.75,279.05 L279.52,280.01 L280.29,280.98 L281.07,281.94 L281.84,282.91 L282.61,283.88 L283.38,284.84 L284.16,285.81 L284.93,286.77 L285.70,287.74 L286.47,288.71 L287.25,289.67 L288.02,290.64 L288.79,291.61 L289.57,292.57 L290.34,293.54 L291.12,294.50 L291.89,295.47 L292.67,296.43 L293.44,297.40 L294.22,298.36 L295.00,299.33 L295.78,300.29 L296.55,301.26 L297.33,302.22 L298.11,303.18 L298.89,304.15 L299.67,305.11 L300.45,306.07 L301.23,307.03 L302.02,307.99 L302.80,308.95 L303.58,309.91 L304.37,310.87 L305.15,311.83 L305.94,312.79 L306.72,313.75 L307.51,314.71 L308.30,315.66 L309.08,316.62 L309.87,317.58 L310.66,318.53 L311.45,319.49 L312.24,320.44 L313.03,321.39 L313.83,322.35 L314.62,323.30 L315.41,324.25 L316.21,325.20 L317.00,326.15 L317.80,327.10 L318.60,328.05 L319.39,329.00 L320.19,329.95 L320.99,330.89 L321.79,331.84 L322.59,332.78 L323.39,333.73 L324.20,334.67 L325.00,335.61 L325.81,336.55 L326.61,337.49 L327.42,338.43 L328.23,339.37 L329.03,340.31 L329.84,341.24 L330.65,342.18 L331.47,343.11 L332.28,344.05 L333.09,344.98 L333.91,345.91 L334.72,346.84 L335.54,347.77 L336.36,348.70 L337.17,349.63 L337.99,350.55 L338.81,351.48 L339.64,352.40 L340.46,353.32 L341.28,354.24 L342.11,355.16 L342.93,356.08 L343.76,357.00 L344.59,357.92 L345.42,358.83 L346.25,359.75 L347.08,360.66 L347.92,361.57 L348.75,362.48 L349.59,363.39 L350.42,364.30 L351.26,365.20 L352.10,366.11 L352.94,367.01 L353.78,367.91 L354.63,368.81 L355.47,369.71 L356.32,370.61 L357.17,371.51 L358.01,372.40 L358.86,373.29 L359.71,374.19 L360.57,375.08 L361.42,375.96 L362.28,376.85 L363.13,377.74 L363.99,378.62 L364.85,379.50 L365.71,380.38 L366.57,381.26 L367.44,382.14 L368.30,383.02 L369.17,383.89 L370.04,384.76 L370.91,385.63 L371.78,386.50 L372.65,387.37 L373.52,388.23 L374.40,389.10 L375.28,389.96 L376.16,390.82 L377.04,391.68 L377.92,392.53 L378.80,393.39 L379.69,394.24 L380.57,395.09 L381.46,395.94 L382.35,396.78 L383.24,397.63 L384.14,398.47 L385.03,399.31 L385.93,400.15 L386.82,400.99 L387.72,401.82 L388.63,402.66 L389.53,403.49 L390.43,404.32 L391.34,405.14 L392.25,405.97 L393.16,406.79 L394.07,407.61 L394.98,408.43 L395.90,409.25 L396.82,410.06 L397.74,410.87 L398.66,411.68 L399.58,412.49 L400.50,413.29 L401.43,414.10 L402.36,414.90 L403.29,415.70 L404.22,416.49 L405.15,417.29 L406.09,418.08 L407.03,418.87 L407.97,419.66 L408.91,420.44 L409.85,421.22 L410.80,422.00 L411.74,422.78 L412.69,423.55 L413.65,424.33 L414.60,425.10 L415.55,425.86 L416.51,426.63 L417.47,427.39 L418.43,428.15 L419.40,428.91 L420.36,429.67 L421.33,430.42 L422.30,431.17 L423.27,431.91 L424.24,432.66 L425.22,433.40 L426.20,434.14 L427.18,434.88 L428.16,435.61 L429.14,436.34 L430.13,437.07 L431.12,437.80 L432.11,438.52 L433.10,439.24 L434.10,439.96 L435.10,440.68 L436.10,441.39 L437.10,442.10 L438.10,442.80 L439.11,443.51 L440.12,444.21 L441.13,444.91 L442.14,445.60 L443.16,446.29 L444.18,446.98 L445.20,447.67 L446.22,448.35 L447.24,449.03 L448.27,449.71 L449.30,450.39 L450.33,451.06 L451.37,451.73 L452.40,452.39 L453.44,453.06 L454.48,453.71 L455.53,454.37 L456.57,455.02 L457.62,455.67 L458.67,456.32 L459.73,456.97 L460.79,457.61 L461.84,458.24 L462.91,458.88 L463.97,459.51 L465.04,460.14 L466.10,460.76 L467.18,461.38 L468.25,462.00 L469.32,462.62 L470.40,463.23 L471.48,463.84 L472.57,464.44 L473.65,465.04 L474.74,465.64 L475.83,466.24 L476.92,466.83 L478.02,467.42 L479.11,468.00 L480.21,468.58 L481.31,469.16 L482.41,469.74 L483.52,470.31 L484.63,470.88 L485.73,471.44 L486.85,472.00 L487.96,472.56 L489.07,473.11 L490.19,473.66 L491.31,474.21 L492.43,474.75 L493.55,475.29 L494.68,475.83 L495.80,476.36 L496.93,476.89 L498.06,477.41 L499.19,477.93 L500.33,478.45 L501.46,478.97 L502.60,479.48 L503.74,479.98 L504.88,480.49 L506.02,480.99 L507.16,481.48 L508.31,481.97 L509.46,482.46 L510.60,482.94 L511.75,483.43 L512.91,483.90 L514.06,484.37 L515.21,484.84 L516.37,485.31 L517.53,485.77 L518.68,486.23 L519.84,486.68 L521.01,487.13 L522.17,487.58 L523.33,488.02 L524.50,488.45 L525.66,488.89 L526.83,489.32 L528.00,489.74 L529.17,490.17 L530.34,490.58 L531.52,491.00 L532.69,491.41 L533.87,491.81 L535.04,492.21 L536.22,492.61 L537.40,493.00 L538.58,493.39 L539.76,493.78 L540.94,494.16 L542.12,494.54 L543.30,494.91 L544.49,495.28 L545.67,495.64 L546.86,496.00 L548.04,496.36 L549.23,496.71 L550.42,497.06 L551.61,497.40 L552.80,497.74 L553.99,498.07 L555.18,498.40 L556.37,498.73 L557.57,499.05 L558.76,499.37 L559.95,499.68 L561.15,499.99 L562.34,500.29 L563.54,500.59 L564.73,500.88 L565.93,501.17 L567.13,501.46 L568.33,501.74 L569.52,502.02 L570.72,502.29 L571.92,502.56 L573.12,502.83 L574.32,503.09 L575.52,503.34 L576.73,503.59 L577.93,503.84 L579.13,504.09 L580.33,504.33 L581.54,504.56 L582.74,504.79 L583.94,505.02 L585.15,505.24 L586.35,505.46 L587.56,505.68 L588.77,505.89 L589.97,506.10 L591.18,506.31 L592.39,506.51 L593.60,506.70 L594.80,506.90 L596.01,507.09 L597.22,507.27 L598.43,507.46 L599.64,507.64 L600.85,507.81 L602.07,507.99 L603.28,508.16 L604.49,508.32 L605.70,508.49 L606.92,508.65 L608.13,508.80 L609.34,508.96 L610.56,509.11 L611.77,509.25 L612.99,509.40 L614.21,509.54 L615.42,509.68 L616.64,509.81 L617.86,509.94 L619.08,510.07 L620.29,510.20 L621.51,510.32 L622.73,510.44 L623.95,510.56 L625.17,510.68 L626.39,510.79 L627.61,510.90 L628.84,511.01 L630.06,511.11 L631.28,511.21 L632.50,511.31 L633.73,511.41 L634.95,511.51 L636.18,511.60 L637.40,511.69 L638.63,511.78 L639.85,511.86 L641.08,511.95 L642.30,512.03 L643.53,512.11 L644.76,512.18 L645.99,512.26 L647.21,512.33 L648.44,512.40 L649.67,512.47 L650.90,512.54 L652.13,512.60 L653.36,512.67 L654.59,512.73 L655.82,512.79 L657.06,512.85 L658.29,512.90 L659.52,512.96 L660.75,513.01 L661.99,513.06 L663.22,513.11 L664.46,513.16 L665.69,513.21 L666.93,513.25 L668.16,513.29 L669.40,513.34 L670.63,513.38 L671.87,513.42 L673.11,513.46 L674.34,513.49 L675.58,513.53 L676.82,513.56 L678.06,513.60 L679.30,513.63 L680.54,513.66 L681.78,513.69 L683.02,513.72 L684.26,513.75 L685.50,513.78 L686.74,513.80 L687.99,513.83 L689.23,513.85 L690.47,513.88 L691.71,513.90 L692.96,513.92 L694.20,513.95 L695.45,513.97 L696.69,513.99 L697.94,514.01 L699.18,514.03 L700.43,514.05 L701.67,514.07 L702.92,514.09 L704.17,514.10 L705.42,514.12 L706.66,514.14 L707.91,514.16 L709.16,514.17 L710.41,514.19 L711.66,514.21 L712.91,514.22 L714.16,514.24 L715.41,514.26 L716.66,514.27 L717.91,514.29 L719.16,514.30 L720.42,514.32 L721.67,514.34 L722.92,514.35 L724.18,514.37" stroke="#2828ff"/>
<path d="M60.71,454.95 L60.88,453.65 L61.06,452.36 L61.24,451.06 L61.41,449.77 L61.59,448.47 L61.77,447.18 L61.95,445.88 L62.13,444.59 L62.31,443.29 L62.49,442.00 L62.67,440.70 L62.85,439.41 L63.03,438.11 L63.21,436.81 L63.39,435.52 L63.58,434.22 L63.76,432.93 L63.94,431.63 L64.12,430.33 L64.31,429.04 L64.49,427.74 L64.68,426.44 L64.86,425.15 L65.05,423.85 L65.23,422.55 L65.42,421.26 L65.60,419.96 L65.79,418.66 L65.98,417.37 L66.16,416.07 L66.35,414.77 L66.54,413.48 L66.73,412.18 L66.91,410.88 L67.10,409.58 L67.29,408.29 L67.48,406.99 L67.67,405.69 L67.86,404.40 L68.05,403.10 L68.24,401.80 L68.43,400.50 L68.62,399.20 L68.81,397.91 L69.00,396.61 L69.20,395.31 L69.39,394.01 L69.58,392.72 L69.77,391.42 L69.96,390.12 L70.16,388.82 L70.35,387.52 L70.54,386.23 L70.74,384.93 L70.93,383.63 L71.12,382.33 L71.32,381.03 L71.51,379.73 L71.71,378.44 L71.90,377.14 L72.10,375.84 L72.29,374.54 L72.49,373.24 L72.68,371.94 L72.88,370.64 L73.08,369.35 L73.27,368.05 L73.47,366.75 L73.67,365.45 L73.86,364.15 L74.06,362.85 L74.26,361.55 L74.45,360.26 L74.65,358.96 L74.85,357.66 L75.05,356.36 L75.25,355.06 L75.44,353.76 L75.64,352.46 L75.84,351.16 L76.04,349.86 L76.24,348.57 L76.44,347.27 L76.63,345.97 L76.83,344.67 L77.03,343.37 L77.23,342.07 L77.43,340.77 L77.63,339.47 L77.83,338.17 L78.03,336.87 L78.23,335.57 L78.43,334.28 L78.63,332.98 L78.83,331.68 L79.03,330.38 L79.23,329.08 L79.43,327.78 L79.63,326.48 L79.83,325.18 L80.03,323.88 L80.23,322.58 L80.43,321.28 L80.63,319.98 L80.84,318.68 L81.04,317.39 L81.24,316.09 L81.44,314.79 L81.64,313.49 L81.84,312.19 L82.04,310.89 L82.24,309.59 L82.44,308.29 L82.64,306.99 L82.85,305.69 L83.05,304.39 L83.25,303.09 L83.45,301.80 L83.65,300.50 L83.85,299.20 L84.05,297.90 L84.25,296.60 L84.46,295.30 L84.66,294.00 L84.86,292.70 L85.06,291.40 L85.26,290.10 L85.46,288.80 L85.66,287.51 L85.86,286.21 L86.06,284.91 L86.26,283.61 L86.47,282.31 L86.67,281.01 L86.87,279.71 L87.07,278.41 L87.27,277.11 L87.47,275.82 L87.67,274.52 L87.87,273.22 L88.07,271.92 L88.27,270.62 L88.47,269.32 L88.67,268.02 L88.87,266.73 L89.07,265.43 L89.27,264.13 L89.47,262.83 L89.67,261.53 L89.87,260.23 L90.07,258.93 L90.27,257.64 L90.47,256.34 L90.67,255.04 L90.87,253.74 L91.07,252.44 L91.27,251.15 L91.46,249.85 L91.66,248.55 L91.86,247.25 L92.06,245.95 L92.26,244.66 L92.45,243.36 L92.65,242.06 L92.85,240.76 L93.05,239.46 L93.25,238.17 L93.44,236.87 L93.64,235.57 L93.84,234.27 L94.03,232.98 L94.23,231.68 L94.43,230.38 L94.62,229.09 L94.82,227.79 L95.01,226.49 L95.21,225.19 L95.40,223.90 L95.60,222.60 L95.79,221.30 L95.99,220.01 L96.18,218.71 L96.38,217.41 L96.57,216.12 L96.77,214.82 L96.96,213.52 L97.15,212.23 L97.35,210.93 L97.54,209.63 L97.73,208.34 L97.92,207.04 L98.12,205.74 L98.31,204.45 L98.50,203.15 L98.70,201.86 L98.89,200.56 L99.08,199.26 L99.28,197.97 L99.47,196.67 L99.66,195.38 L99.86,194.08 L100.05,192.79 L100.25,191.49 L100.44,190.20 L100.64,188.90 L100.83,187.61 L101.03,186.31 L101.22,185.02 L101.42,183.72 L101.62,182.43 L101.82,181.13 L102.01,179.84 L102.21,178.54 L102.41,177.25 L102.61,175.95 L102.81,174.66 L103.02,173.36 L103.22,172.07 L103.42,170.77 L103.63,169.48 L103.83,168.19 L104.04,166.89 L104.24,165.60 L104.45,164.30 L104.66,163.01 L104.87,161.72 L105.08,160.42 L105.29,159.13 L105.50,157.83 L105.71,156.54 L105.93,155.25 L106.14,153.95 L106.36,152.66 L106.58,151.37 L106.79,150.07 L107.01,148.78 L107.24,147.49 L107.46,146.20 L107.68,144.90 L107.91,143.61 L108.13,142.32 L108.36,141.02 L108.59,139.73 L108.82,138.44 L109.06,137.15 L109.29,135.85 L109.52,134.56 L109.76,133.27 L110.00,131.98 L110.24,130.69 L110.48,129.39 L110.73,128.10 L110.97,126.81 L111.22,125.52 L111.47,124.23 L111.72,122.94 L111.97,121.64 L112.23,120.35 L112.48,119.06 L112.74,117.77 L113.00,116.48 L113.26,115.19 L113.53,113.90 L113.79,112.61 L114.06,111.32 L114.34,110.03 L114.62,108.74 L114.91,107.46 L115.21,106.17 L115.51,104.89 L115.83,103.62 L116.15,102.35 L116.49,101.08 L116.84,99.82 L117.21,98.56 L117.59,97.31 L117.98,96.06 L118.40,94.82 L118.83,93.59 L119.28,92.36 L119.75,91.15 L120.24,89.94 L120.76,88.74 L121.30,87.54 L121.86,86.36 L122.45,85.19 L123.06,84.03 L123.70,82.88 L124.37,81.74 L125.07,80.61 L125.80,79.49 L126.56,78.39 L127.36,77.30 L128.18,76.23 L129.05,75.18 L129.95,74.18 L130.89,73.23 L131.87,72.34 L132.90,71.53 L133.97,70.79 L135.08,70.15 L136.23,69.60 L137.40,69.15 L138.59,68.80 L139.79,68.56 L141.00,68.44 L142.20,68.42 L143.40,68.53 L144.59,68.74 L145.76,69.05 L146.93,69.46 L148.09,69.94 L149.24,70.50 L150.38,71.11 L151.51,71.79 L152.63,72.50 L153.74,73.25 L154.84,74.03 L155.94,74.82 L157.02,75.62 L158.10,76.43 L159.16,77.25 L160.22,78.08 L161.26,78.91 L162.30,79.76 L163.33,80.61 L164.35,81.46 L165.37,82.33 L166.37,83.20 L167.37,84.08 L168.36,84.97 L169.34,85.86 L170.31,86.76 L171.28,87.67 L172.23,88.59 L173.18,89.51 L174.13,90.43 L175.06,91.37 L175.99,92.30 L176.91,93.25 L177.83,94.20 L178.74,95.16 L179.64,96.12 L180.53,97.09 L181.42,98.06 L182.30,99.04 L183.18,100.02 L184.05,101.01 L184.91,102.00 L185.77,102.99 L186.63,104.00 L187.47,105.00 L188.32,106.01 L189.15,107.03 L189.98,108.04 L190.81,109.06 L191.63,110.09 L192.45,111.12 L193.26,112.15 L194.07,113.19 L194.87,114.22 L195.67,115.27 L196.46,116.31 L197.25,117.36 L198.04,118.41 L198.82,119.46 L199.60,120.52 L200.38,121.57 L201.15,122.63 L201.92,123.69 L202.68,124.76 L203.44,125.82 L204.20,126.89 L204.96,127.95 L205.71,129.02 L206.46,130.09 L207.20,131.17 L207.95,132.24 L208.69,133.32 L209.43,134.40 L210.16,135.47 L210.89,136.55 L211.62,137.64 L212.35,138.72 L213.08,139.81 L213.80,140.89 L214.52,141.98 L215.23,143.07 L215.95,144.16 L216.66,145.25 L217.37,146.34 L218.08,147.44 L218.78,148.53 L219.49,149.63 L220.19,150.73 L220.88,151.83 L221.58,152.93 L222.28,154.03 L222.97,155.14 L223.66,156.24 L224.35,157.35 L225.03,158.45 L225.72,159.56 L226.40,160.67 L227.08,161.78 L227.76,162.89 L228.44,164.00 L229.12,165.12 L229.79,166.23 L230.46,167.35 L231.13,168.46 L231.80,169.58 L232.47,170.70 L233.14,171.82 L233.81,172.94 L234.47,174.06 L235.13,175.18 L235.80,176.30 L236.46,177.42 L237.12,178.55 L237.78,179.67 L238.43,180.80 L239.09,181.93 L239.75,183.05 L240.40,184.18 L241.05,185.31 L241.71,186.44 L242.36,187.57 L243.01,188.70 L243.66,189.83 L244.31,190.96 L244.96,192.09 L245.61,193.23 L246.26,194.36 L246.91,195.49 L247.55,196.63 L248.20,197.76 L248.85,198.90 L249.49,200.03 L250.14,201.17 L250.78,202.31 L251.43,203.44 L252.07,204.58 L252.72,205.72 L253.36,206.86 L254.01,208.00 L254.65,209.14 L255.30,210.27 L255.94,211.41 L256.59,212.55 L257.23,213.69 L257.88,214.83 L258.53,215.97 L259.17,217.11 L259.82,218.25 L260.47,219.40 L261.11,220.54 L261.76,221.68 L262.41,222.82 L263.06,223.96 L263.71,225.10 L264.36,226.24 L265.01,227.38 L265.66,228.52 L266.31,229.66 L266.96,230.81 L267.62,231.95 L268.27,233.09 L268.93,234.23 L269.58,235.37 L270.24,236.51 L270.90,237.65 L271.56,238.79 L272.22,239.93 L272.88,241.07 L273.55,242.21 L274.21,243.35 L274.88,244.49 L275.54,245.63 L276.21,246.77 L276.88,247.90 L277.55,249.04 L278.22,250.18 L278.90,251.32 L279.57,252.45 L280.25,253.59 L280.92,254.72 L281.60,255.86 L282.28,256.99 L282.96,258.13 L283.65,259.26 L284.33,260.40 L285.02,261.53 L285.70,262.66 L286.39,263.79 L287.08,264.92 L287.77,266.05 L288.46,267.18 L289.16,268.31 L289.85,269.44 L290.55,270.57 L291.25,271.69 L291.95,272.82 L292.65,273.95 L293.35,275.07 L294.05,276.19 L294.76,277.32 L295.47,278.44 L296.17,279.56 L296.88,280.68 L297.59,281.80 L298.31,282.92 L299.02,284.03 L299.74,285.15 L300.46,286.26 L301.18,287.38 L301.90,288.49 L302.62,289.60 L303.34,290.72 L304.07,291.83 L304.80,292.93 L305.53,294.04 L306.26,295.15 L306.99,296.25 L307.72,297.36 L308.46,298.46 L309.19,299.56 L309.93,300.66 L310.67,301.76 L311.42,302.86 L312.16,303.96 L312.91,305.05 L313.65,306.15 L314.40,307.24 L315.15,308.33 L315.91,309.42 L316.66,310.51 L317.42,311.60 L318.18,312.68 L318.94,313.77 L319.70,314.85 L320.46,315.93 L321.23,317.01 L321.99,318.09 L322.76,319.17 L323.53,320.24 L324.31,321.31 L325.08,322.38 L325.86,323.45 L326.64,324.52 L327.42,325.59 L328.20,326.65 L328.98,327.72 L329.77,328.78 L330.56,329.84 L331.35,330.90 L332.14,331.95 L332.93,333.01 L333.73,334.06 L334.53,335.11 L335.33,336.16 L336.13,337.20 L336.93,338.25 L337.74,339.29 L338.55,340.33 L339.36,341.37 L340.17,342.41 L340.98,343.44 L341.80,344.48 L342.62,345.51 L343.44,346.53 L344.26,347.56 L345.08,348.59 L345.91,349.61 L346.74,350.63 L347.57,351.65 L348.40,352.66 L349.24,353.67 L350.08,354.69 L350.92,355.69 L351.76,356.70 L352.60,357.71 L353.45,358.71 L354.29,359.71 L355.14,360.70 L356.00,361.70 L356.85,362.69 L357.71,363.68 L358.57,364.67 L359.43,365.66 L360.29,366.64 L361.16,367.62 L362.03,368.60 L362.90,369.57 L363.77,370.54 L364.65,371.51 L365.52,372.48 L366.40,373.45 L367.29,374.41 L368.17,375.37 L369.06,376.32 L369.95,377.28 L370.84,378.23 L371.73,379.18 L372.63,380.13 L373.53,381.07 L374.43,382.01 L375.33,382.95 L376.24,383.88 L377.15,384.81 L378.06,385.74 L378.97,386.67 L379.89,387.59 L380.81,388.51 L381.73,389.43 L382.65,390.35 L383.58,391.26 L384.50,392.17 L385.44,393.07 L386.37,393.97 L387.31,394.87 L388.24,395.77 L389.18,396.66 L390.13,397.55 L391.07,398.44 L392.02,399.32 L392.97,400.20 L393.93,401.08 L394.89,401.96 L395.84,402.83 L396.81,403.69 L397.77,404.56 L398.74,405.42 L399.71,406.28 L400.68,407.13 L401.65,407.98 L402.63,408.83 L403.61,409.68 L404.60,410.52 L405.58,411.35 L406.57,412.19 L407.56,413.02 L408.56,413.85 L409.55,414.67 L410.55,415.49 L411.55,416.31 L412.56,417.12 L413.57,417.93 L414.58,418.73 L415.59,419.54 L416.61,420.34 L417.63,421.13 L418.65,421.92 L419.67,422.71 L420.70,423.49 L421.73,424.27 L422.77,425.05 L423.80,425.82 L424.84,426.59 L425.88,427.35 L426.93,428.12 L427.98,428.87 L429.03,429.63 L430.08,430.38 L431.14,431.12 L432.20,431.86 L433.26,432.60 L434.32,433.33 L435.39,434.06 L436.46,434.79 L437.54,435.51 L438.62,436.23 L439.70,436.94 L440.78,437.65 L441.87,438.36 L442.95,439.06 L444.05,439.75 L445.14,440.45 L446.24,441.13 L447.34,441.82 L448.45,442.50 L449.56,443.17 L450.67,443.85 L451.78,444.51 L452.90,445.18 L454.02,445.84 L455.14,446.49 L456.26,447.14 L457.39,447.79 L458.52,448.43 L459.66,449.07 L460.79,449.71 L461.93,450.34 L463.07,450.97 L464.22,451.59 L465.37,452.21 L466.52,452.82 L467.67,453.43 L468.83,454.04 L469.98,454.64 L471.14,455.24 L472.31,455.83 L473.47,456.42 L474.64,457.01 L475.81,457.59 L476.99,458.17 L478.16,458.75 L479.34,459.32 L480.52,459.88 L481.70,460.45 L482.89,461.01 L484.08,461.56 L485.27,462.11 L486.46,462.66 L487.65,463.20 L488.85,463.74 L490.05,464.28 L491.25,464.81 L492.45,465.34 L493.66,465.86 L494.87,466.38 L496.08,466.90 L497.29,467.41 L498.50,467.92 L499.72,468.43 L500.94,468.93 L502.16,469.43 L503.38,469.92 L504.60,470.41 L505.83,470.90 L507.06,471.38 L508.29,471.86 L509.52,472.34 L510.75,472.81 L511.99,473.28 L513.22,473.74 L514.46,474.20 L515.70,474.66 L516.95,475.11 L518.19,475.56 L519.44,476.01 L520.68,476.45 L521.93,476.89 L523.18,477.33 L524.44,477.76 L525.69,478.19 L526.95,478.61 L528.20,479.03 L529.46,479.45 L530.72,479.86 L531.99,480.27 L533.25,480.68 L534.51,481.08 L535.78,481.48 L537.05,481.88 L538.32,482.27 L539.59,482.66 L540.86,483.05 L542.13,483.43 L543.41,483.81 L544.68,484.19 L545.96,484.56 L547.24,484.93 L548.51,485.29 L549.79,485.66 L551.08,486.01 L552.36,486.37 L553.64,486.72 L554.93,487.07 L556.21,487.41 L557.50,487.76 L558.79,488.09 L560.08,488.43 L561.37,488.76 L562.66,489.09 L563.95,489.41 L565.24,489.74 L566.54,490.05 L567.83,490.37 L569.13,490.68 L570.42,490.99 L571.72,491.30 L573.02,491.60 L574.31,491.90 L575.61,492.19 L576.91,492.48 L578.21,492.77 L579.52,493.06 L580.82,493.34 L582.12,493.62 L583.42,493.90 L584.73,494.17 L586.03,494.44 L587.34,494.71 L588.64,494.97 L589.95,495.23 L591.25,495.49 L592.56,495.75 L593.87,496.00 L595.17,496.25 L596.48,496.49 L597.79,496.73 L599.10,496.97 L600.41,497.21 L601.72,497.44 L603.03,497.67 L604.34,497.90 L605.65,498.12 L606.96,498.34 L608.27,498.56 L609.58,498.78 L610.89,498.99 L612.20,499.20 L613.51,499.41 L614.82,499.61 L616.13,499.81 L617.44,500.01 L618.76,500.20 L620.07,500.39 L621.38,500.58 L622.69,500.77 L624.00,500.95 L625.31,501.13 L626.62,501.31 L627.93,501.48 L629.24,501.65 L630.55,501.82 L631.86,501.99 L633.17,502.15 L634.48,502.31 L635.79,502.47 L637.10,502.62 L638.41,502.77 L639.72,502.92 L641.02,503.07 L642.33,503.21 L643.64,503.35 L644.94,503.49 L646.25,503.62 L647.56,503.76 L648.86,503.89 L650.17,504.01 L651.47,504.14 L652.77,504.26 L654.08,504.38 L655.38,504.49 L656.68,504.61 L657.98,504.72 L659.28,504.83 L660.58,504.93 L661.88,505.04 L663.18,505.14 L664.48,505.23 L665.77,505.33 L667.07,505.42 L668.36,505.51 L669.66,505.60 L670.95,505.69 L672.24,505.77 L673.54,505.85 L674.83,505.92 L676.12,506.00 L677.41,506.07 L678.69,506.14 L679.98,506.21 L681.26,506.27 L682.55,506.34 L683.83,506.40 L685.12,506.45 L686.40,506.51 L687.68,506.56 L688.96,506.61 L690.23,506.66 L691.51,506.71 L692.78,506.75 L694.06,506.79 L695.33,506.83 L696.60,506.86 L697.87,506.90 L699.14,506.93 L700.41,506.96 L701.67,506.98 L702.94,507.01 L704.20,507.03 L705.46,507.05 L706.72,507.07 L707.98,507.08 L709.24,507.09 L710.49,507.10 L711.75,507.11 L713.00,507.12 L714.25,507.12 L715.50,507.12 L716.75,507.12 L717.99,507.12 L719.23,507.11 L720.48,507.11 L721.72,507.10 L722.96,507.08" stroke="#cc00cc"/>
</g>
<path fill="#000" fill-rule="evenodd" d="M59.8,15.7 H722.05 V565.3 H716.45 V555.25 H65.1 V565.3 H59.8 Z M65.1,20 V550.35 H716.45 V20 Z"/>
<rect x="171.20" y="553" width="5.2" height="12.3" fill="#000"/><rect x="277.20" y="553" width="5.2" height="12.3" fill="#000"/><rect x="390.00" y="553" width="5.2" height="12.3" fill="#000"/><rect x="496.10" y="553" width="5.2" height="12.3" fill="#000"/><rect x="607.20" y="553" width="5.2" height="12.3" fill="#000"/>
<text transform="translate(37.80,592.25) scale(1.0000,1.0000)" font-size="32">200</text><text transform="translate(147.80,592.25) scale(1.0000,1.0000)" font-size="32">300</text><text transform="translate(258.18,592.25) scale(1.0000,1.0000)" font-size="32">400</text><text transform="translate(367.80,592.25) scale(1.0000,1.0000)" font-size="32">500</text><text transform="translate(477.93,592.25) scale(1.0000,1.0000)" font-size="32">600</text><text transform="translate(587.55,592.25) scale(1.0000,1.0000)" font-size="32">700</text><text transform="translate(697.92,592.25) scale(1.0000,1.0000)" font-size="32">800</text>
<text transform="translate(246.12,641.40) scale(0.9627,1.0000)" font-size="42">Wavelength (nm)</text>
<text transform="translate(40.6,433.88) rotate(-90) scale(0.9622,1)" font-size="42">Absorbance (a.u.)</text>
<g stroke-width="4.2" stroke-linecap="butt">
<line x1="481.3" y1="72.8" x2="549.2" y2="72.8" stroke="#cc00cc"/>
<line x1="481.3" y1="101.9" x2="549.2" y2="101.9" stroke="#3492ee"/>
<line x1="481.3" y1="136.2" x2="549.2" y2="136.2" stroke="#ff0a0a"/>
<line x1="481.3" y1="169.8" x2="549.2" y2="169.8" stroke="#000"/>
</g>
</g>
<text transform="translate(557.93,79.80) scale(0.9639,1.0000)" font-size="28.5">100 <tspan dy="2.2" stroke="#000" stroke-width="0.7">°</tspan><tspan dy="-2.2">C</tspan></text><text transform="translate(557.59,111.60) scale(0.9757,1.0000)" font-size="28.5">70 <tspan dy="2.2" stroke="#000" stroke-width="0.7">°</tspan><tspan dy="-2.2">C</tspan></text><text transform="translate(558.29,144.20) scale(0.9650,1.0000)" font-size="28.5">50 <tspan dy="2.2" stroke="#000" stroke-width="0.7">°</tspan><tspan dy="-2.2">C</tspan></text><text transform="translate(558.29,176.80) scale(0.9650,1.0000)" font-size="28.5">25 <tspan dy="2.2" stroke="#000" stroke-width="0.7">°</tspan><tspan dy="-2.2">C</tspan></text>
</svg>
</body></html>
